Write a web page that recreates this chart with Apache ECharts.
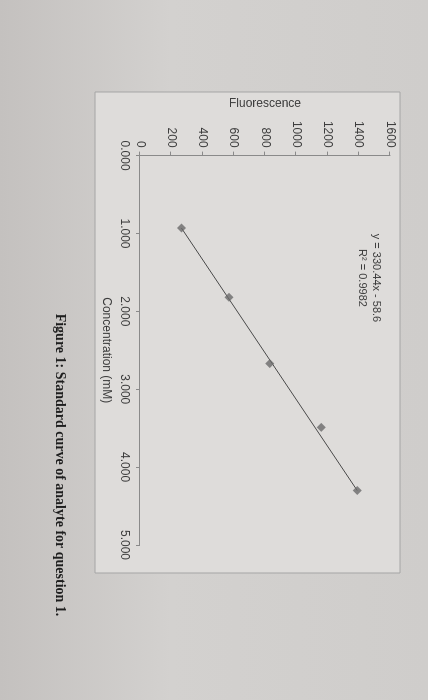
<!DOCTYPE html>
<html><head><meta charset="utf-8">
<script src="https://cdn.jsdelivr.net/npm/echarts@6/dist/echarts.min.js"></script>
<style>
html,body{margin:0;padding:0;width:428px;height:700px;overflow:hidden;background:linear-gradient(90deg,#c4c1bf 0%,#d3d1cf 40%,#cfcdcb 100%);}
#c{position:absolute;left:420px;top:90px;width:560px;height:400px;transform-origin:0 0;transform:rotate(90deg);}
</style></head><body>
<div id="c"></div>
<script>
const concentration = [0.93, 1.82, 2.67, 3.49, 4.30];
const fluorescence = [265, 570, 830, 1160, 1390];
const trendX = [0.93, 4.30];
const trendY = [265, 1390];
const xTicks = ['0.000','1.000','2.000','3.000','4.000','5.000'];
const equation = 'y = 330.44x - 58.6';
const rSquared = 'R² = 0.9982';
const caption = 'Figure 1: Standard curve of analyte for question 1.';

const chart = echarts.init(document.getElementById('c'));
const txt = '#3d3d3d';
chart.setOption({
  backgroundColor: 'transparent',
  animation: false,
  grid: {left: 58, top: 30, width: 397, height: 250},
  xAxis: {
    type: 'value', min: 0, max: 5, interval: 1,
    name: 'Concentration (mM)', nameLocation: 'middle', nameGap: 28,
    nameTextStyle: {color: txt, fontSize: 12, fontFamily: 'Liberation Sans'},
    axisLine: {lineStyle: {color: '#8a8a8a'}},
    axisTick: {show: true, length: 4, lineStyle: {color: '#8a8a8a'}},
    axisLabel: {color: txt, fontSize: 12, fontFamily: 'Liberation Sans', margin: 10,
      formatter: v => xTicks[Math.round(v)]},
    splitLine: {show: false}
  },
  yAxis: {
    type: 'value', min: 0, max: 1600, interval: 200,
    name: 'Fluorescence', nameLocation: 'middle', nameGap: 41, nameRotate: 90,
    nameTextStyle: {color: txt, fontSize: 12, fontFamily: 'Liberation Sans'},
    axisLine: {show: true, lineStyle: {color: '#8a8a8a'}},
    axisTick: {show: true, length: 4, lineStyle: {color: '#8a8a8a'}},
    axisLabel: {color: txt, fontSize: 12, fontFamily: 'Liberation Sans', margin: 8,
      formatter: v => String(v)},
    splitLine: {show: false}
  },
  graphic: [
    {type: 'rect', z: -10, shape: {x: 2, y: 20, width: 481, height: 305},
     style: {fill: '#dedcda', stroke: '#a5a5a5', lineWidth: 1}},
    {type: 'text', x: 188, y: 44, style: {text: equation, fill: txt, font: '11px "Liberation Sans"', align: 'center', verticalAlign: 'middle'}},
    {type: 'text', x: 188, y: 58, style: {text: rSquared, fill: txt, font: '11px "Liberation Sans"', align: 'center', verticalAlign: 'middle'}},
    {type: 'text', x: 375, y: 360, style: {text: caption, fill: '#1e1e1e', font: 'bold 14px "Liberation Serif"', align: 'center', verticalAlign: 'middle'}}
  ],
  series: [
    {type: 'line', data: trendX.map((x,i)=>[x,trendY[i]]), symbol: 'none',
     lineStyle: {color: '#4a4a4a', width: 1}, z: 1},
    {type: 'scatter', data: concentration.map((x,i)=>[x,fluorescence[i]]),
     symbol: 'diamond', symbolSize: 9, itemStyle: {color: '#6a6a6a'}, z: 2}
  ]
});
</script></body></html>
